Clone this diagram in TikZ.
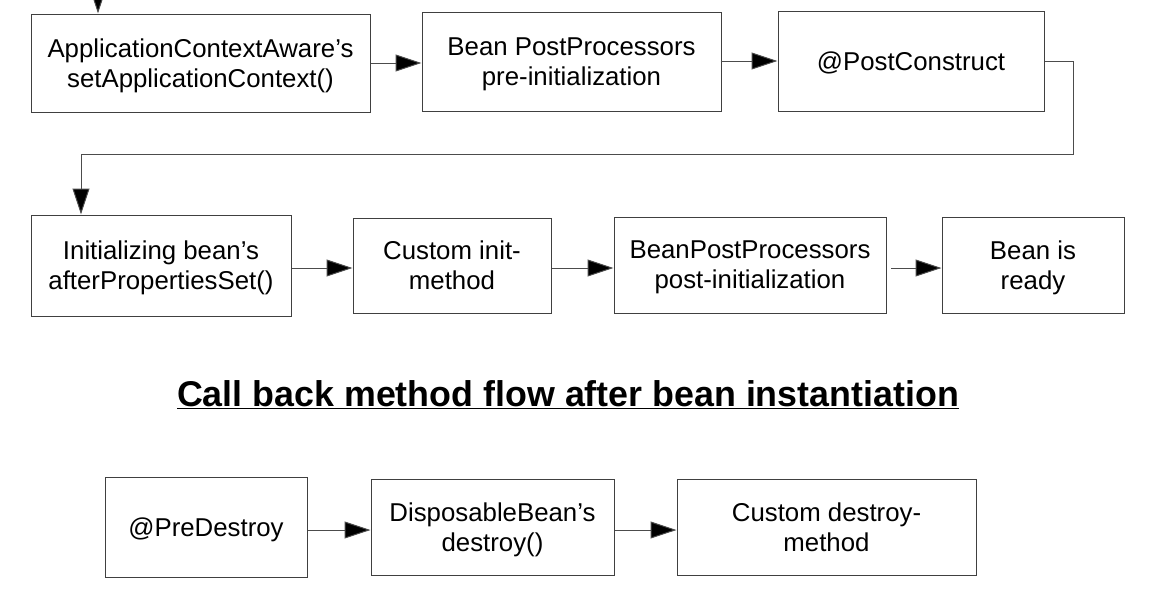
\documentclass[tikz,border=0pt]{standalone}
\usepackage{fontspec}
\setmainfont{Liberation Sans}
\usetikzlibrary{arrows.meta}
\begin{document}
\begin{tikzpicture}[x=1pt,y=-1pt,
  box/.style={draw=black!75, line width=1pt, fill=white, inner sep=0pt, align=center,
    text depth=0pt, font=\fontsize{25.8}{30}\selectfont},
  conn/.style={draw=black!70, line width=1pt, -{Triangle[length=26pt,width=17pt,fill=black]}},
  line/.style={draw=black!70, line width=1pt}]
\useasboundingbox (0,0) rectangle (1158,608);
% boxes: centers and sizes from pixel extents
\node[box, minimum width=339pt, minimum height=98pt] (A) at (200.5,63) {ApplicationContextAware’s\\setApplicationContext()};
\node[box, minimum width=299pt, minimum height=99pt] (B) at (571.5,61.5) {Bean PostProcessors\\pre-initialization};
\node[box, minimum width=266pt, minimum height=100pt] (C) at (911,61) {@PostConstruct};
\node[box, minimum width=260pt, minimum height=101pt] (D) at (161,265.5) {Initializing bean’s\\afterPropertiesSet()};
\node[box, minimum width=198pt, minimum height=95pt] (E) at (452,265.5) {Custom init-\\method};
\node[box, minimum width=272pt, minimum height=96pt] (F) at (750,265) {BeanPostProcessors\\post-initialization};
\node[box, minimum width=182pt, minimum height=96pt] (G) at (1033,265) {Bean is\\ready};
\node[box, minimum width=202pt, minimum height=100pt] (H) at (206,527) {@PreDestroy};
\node[box, minimum width=243pt, minimum height=96pt] (I) at (492.5,527) {DisposableBean’s\\destroy()};
\node[box, minimum width=299pt, minimum height=96pt] (J) at (826.5,527) {Custom destroy-\\method};
\node[font=\fontsize{35.8}{40}\selectfont\bfseries, inner sep=0pt] (T) at (568,395) {\underline{Call back method flow after bean instantiation}};
% incoming arrow at top
\coordinate (top) at (98,-12);
\draw[conn] (top) -- (top |- A.north);
% connectors
\draw[conn] (A.east |- 0,63) -- (B.west |- 0,63);
\draw[conn] (C.west |- 0,61) ++(-57,0) -- (C.west |- 0,61);
\coordinate (c1) at (1073,61);
\coordinate (c2) at (1073,154);
\coordinate (c3) at (81,154);
\draw[line] (C.east) -- (c1) -- (c2) -- (c3);
\draw[conn] (c3) -- (c3 |- D.north);
\draw[conn] (D.east |- 0,268) -- (E.west |- 0,268);
\draw[conn] (E.east |- 0,268) -- (F.west |- 0,268);
\coordinate (f1) at (891,268);
\draw[conn] (f1) -- (G.west |- f1);
\draw[conn] (H.east |- 0,530) -- (I.west |- 0,530);
\draw[conn] (I.east |- 0,530) -- (J.west |- 0,530);
\end{tikzpicture}
\end{document}
